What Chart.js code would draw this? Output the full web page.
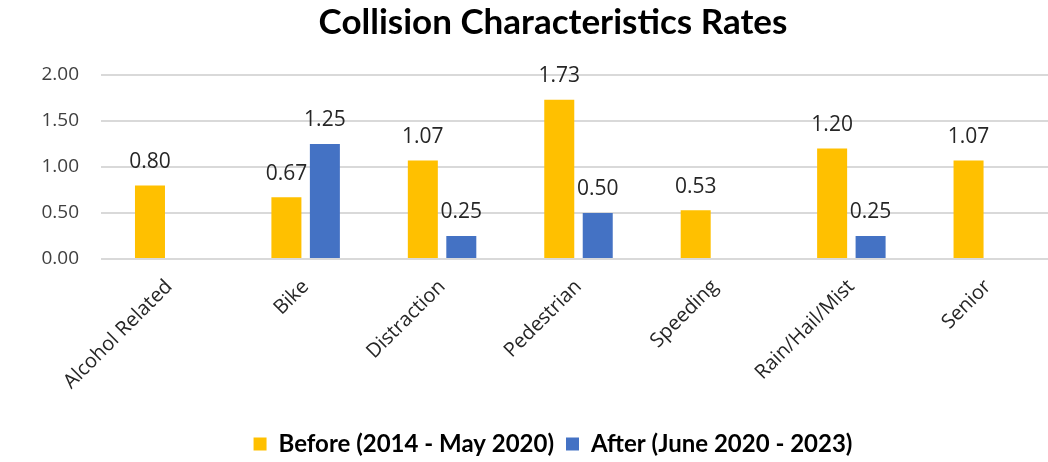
<!DOCTYPE html>
<html>
<head>
<meta charset="utf-8">
<script src="https://cdn.jsdelivr.net/npm/chart.js@4.4.1/dist/chart.umd.min.js"></script>
<style>
  html, body { margin: 0; padding: 0; background: #fff; overflow: hidden; }
  #wrap { width: 1106px; height: 466px; position: relative; }
</style>
</head>
<body>
<div id="wrap"><canvas id="chart"></canvas></div>
<script>
// Chart data
const categories = ['Alcohol Related', 'Bike', 'Distraction', 'Pedestrian', 'Speeding', 'Rain/Hail/Mist', 'Senior'];
const beforeRates = [0.80, 0.67, 1.07, 1.73, 0.53, 1.20, 1.07];
const afterRates = [null, 1.25, 0.25, 0.50, null, 0.25, null];
const seriesNames = ['Before (2014 - May 2020)', 'After (June 2020 - 2023)'];
const yTicks = [0, 0.5, 1, 1.5, 2];

// value labels on top of bars
const barLabels = {
    id: 'barLabels',
    afterDatasetsDraw(chart) {
        const ctx = chart.ctx;
        ctx.save();
        ctx.font = '21px "Open Sans"';
        ctx.fillStyle = '#262626';
        ctx.textAlign = 'center';
        ctx.textBaseline = 'bottom';
        chart.data.datasets.forEach((ds, i) => {
            chart.getDatasetMeta(i).data.forEach((bar, j) => {
                const v = ds.data[j];
                if (v === null || v === undefined) return;
                ctx.fillText(v.toFixed(2), bar.x, bar.y - 13);
            });
        });
        ctx.restore();
    }
};

new Chart(document.getElementById('chart'), {
    type: 'bar',
    data: {
        labels: categories,
        datasets: [
            { label: seriesNames[0], data: beforeRates, backgroundColor: '#FFC000' },
            { label: seriesNames[1], data: afterRates, backgroundColor: '#4472C4' }
        ]
    },
    options: {
        responsive: true, maintainAspectRatio: false, animation: false,
        categoryPercentage: 0.564,
        barPercentage: 0.78,
        layout: { padding: { left: 37, right: 37, top: 0, bottom: 0 } },
        plugins: {
            title: {
                display: true,
                text: 'Collision Characteristics Rates',
                color: '#000',
                font: { family: 'Lato', size: 35, weight: 'bold' },
                padding: { top: 2, bottom: 31 }
            },
            legend: {
                position: 'bottom',
                labels: {
                    color: '#000',
                    font: { family: 'Lato', size: 24, weight: 'bold' },
                    boxWidth: 13, boxHeight: 13,
                    padding: 12
                }
            },
            tooltip: { enabled: false }
        },
        scales: {
            y: {
                min: 0, max: 2,
                afterBuildTicks: axis => { axis.ticks = yTicks.map(v => ({ value: v })); },
                afterFit: s => { s.width = 64; },
                ticks: {
                    color: '#404040',
                    font: { family: 'Open Sans', size: 19 },
                    padding: 22,
                    callback: v => v.toFixed(2)
                },
                grid: { color: '#d9d9d9', lineWidth: 2, drawTicks: false },
                border: { display: false }
            },
            // empty spacer on the right, keeps title/legend centred on the full width
            spacer: {
                position: 'right',
                display: true,
                afterFit: s => { s.width = 13; },
                ticks: { display: false },
                grid: { display: false },
                border: { display: false }
            },
            x: {
                afterFit: s => { s.height = 161; },
                ticks: {
                    color: '#262626',
                    font: { family: 'Open Sans', size: 20 },
                    minRotation: 45, maxRotation: 45,
                    padding: 8
                },
                grid: { display: false },
                border: { display: false }
            }
        }
    },
    plugins: [barLabels]
});
</script>
</body>
</html>
